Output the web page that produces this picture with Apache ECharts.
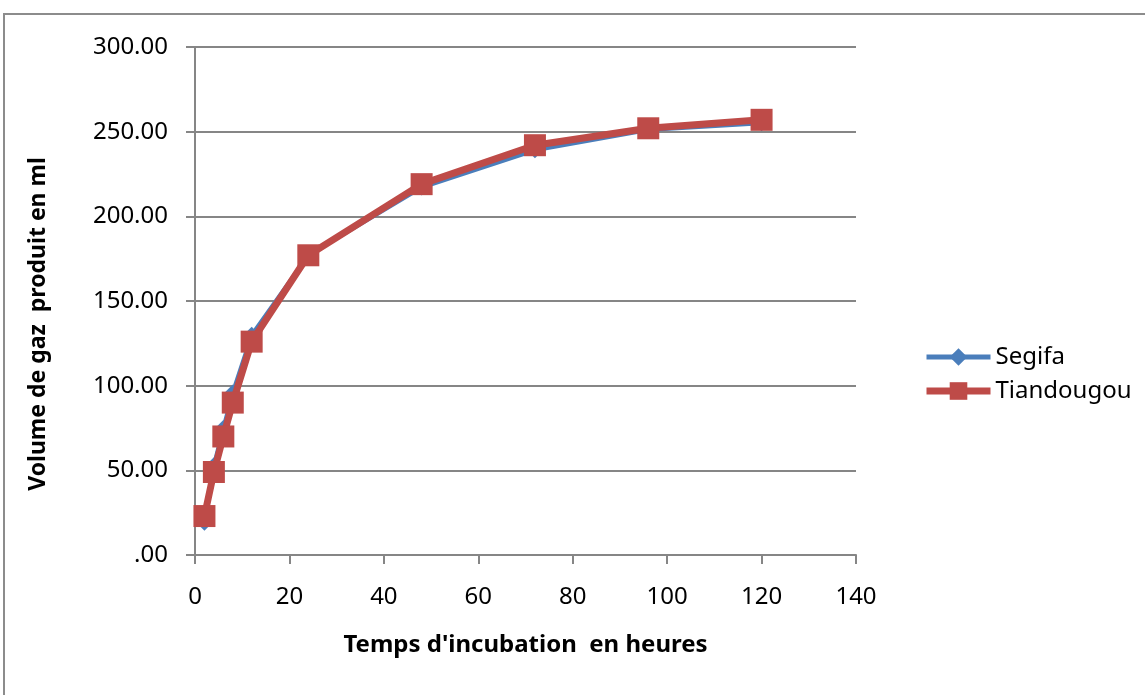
<!DOCTYPE html>
<html><head><meta charset="utf-8">
<script src="https://cdn.jsdelivr.net/npm/echarts@6/dist/echarts.min.js"></script>
<style>html,body{margin:0;padding:0;background:#fff}#c{width:1145px;height:695px}</style>
</head><body><div id="c"></div>
<script>
const hours = [2, 4, 6, 8, 12, 24, 48, 72, 96, 120];
const segifa = [19, 53, 75, 96, 130, 177, 217, 239, 251, 255];
const tiandougou = [23, 49, 70, 90, 126, 177, 219, 242, 252, 257];
const seriesNames = ['Segifa', 'Tiandougou'];
const xTitle = "Temps d'incubation  en heures";
const yTitle = 'Volume de gaz  produit en ml';

const F = 'Noto Sans';
const BLUE = '#4a7ebb', RED = '#be4b48';
const chart = echarts.init(document.getElementById('c'));
chart.setOption({
  animation: false,
  textStyle: {fontFamily: F},
  graphic: [{type: 'rect', shape: {x: 4, y: 14, width: 1160, height: 700}, style: {fill: 'none', stroke: '#8c8c8c', lineWidth: 2}, silent: true}],
  grid: {left: 195, right: 289, top: 47, bottom: 140},
  legend: {
    orient: 'vertical', left: 918, top: 340, itemGap: 10, itemWidth: 64, itemHeight: 22,
    textStyle: {fontFamily: F, fontSize: 24, color: '#000'},
    data: [
      {name: seriesNames[0], lineStyle: {width: 5, color: BLUE}},
      {name: seriesNames[1], lineStyle: {width: 7, color: RED}}
    ]
  },
  xAxis: {
    type: 'value', min: 0, max: 140, interval: 20,
    name: xTitle, nameLocation: 'middle', nameGap: 78,
    nameTextStyle: {fontFamily: F, fontSize: 24, fontWeight: 'bold', color: '#000'},
    axisLine: {lineStyle: {color: '#868686', width: 2}},
    axisTick: {show: true, length: 9, lineStyle: {color: '#868686', width: 2}},
    axisLabel: {fontSize: 24, color: '#000', margin: 30, fontFamily: F},
    splitLine: {show: false}
  },
  yAxis: {
    type: 'value', min: 0, max: 300, interval: 50,
    name: yTitle, nameLocation: 'middle', nameGap: 145, nameRotate: 90,
    nameTextStyle: {fontFamily: F, fontSize: 23, fontWeight: 'bold', color: '#000', padding: [0, 46, 0, 0]},
    axisLine: {show: true, lineStyle: {color: '#868686', width: 2}},
    axisTick: {show: true, length: 9, lineStyle: {color: '#868686', width: 2}},
    axisLabel: {fontSize: 24, color: '#000', margin: 27, fontFamily: F,
      formatter: v => v === 0 ? '.00' : v.toFixed(2)},
    splitLine: {show: true, lineStyle: {color: '#868686', width: 2}}
  },
  series: [
    {name: seriesNames[0], type: 'line', data: hours.map((h, i) => [h, segifa[i]]),
     symbol: 'diamond', symbolSize: 16, lineStyle: {width: 4, color: BLUE},
     itemStyle: {color: BLUE}, z: 2},
    {name: seriesNames[1], type: 'line', data: hours.map((h, i) => [h, tiandougou[i]]),
     symbol: 'rect', symbolSize: 22, lineStyle: {width: 7, color: RED},
     itemStyle: {color: RED}, z: 3}
  ]
});
</script></body></html>
